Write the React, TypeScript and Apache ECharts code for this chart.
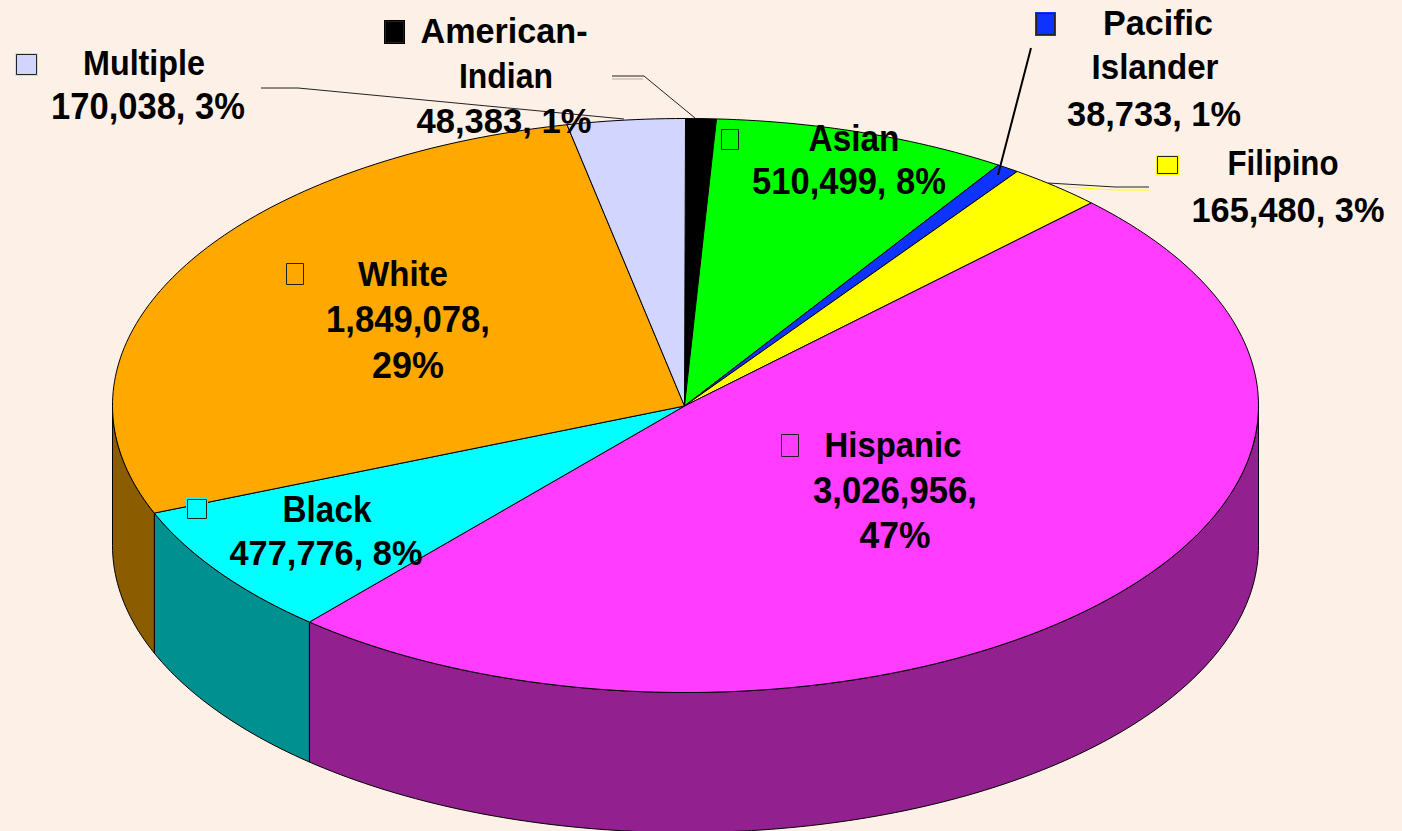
import React, { useEffect, useRef } from "react";
import * as echarts from "echarts";

// ---- data ----
const categories = ["American-Indian", "Asian", "Pacific Islander", "Filipino", "Hispanic", "Black", "White", "Multiple"];
const values = [48383, 510499, 38733, 165480, 3026956, 477776, 1849078, 170038];
const percents = [1, 8, 1, 3, 47, 8, 29, 3];

// ---- styles ----
const BG = "#FDF0E7";
const topColors = ["#000000", "#00FF00", "#0F33FF", "#FFFF00", "#FF3CFF", "#00FFFF", "#FFA800", "#D2D6FF"];
const wallColors = ["#000000", "#008000", "#081A80", "#808000", "#93208F", "#009090", "#8C5C00", "#696B80"];
const FONT_SPEC = 'bold 36px "Liberation Sans", Arial, sans-serif';
const TEXT_DY = -1.5;

// ---- projection of the tilted pie ----
const CX = 685.5, CY = 405.5, RX = 573, RY = 287, DEPTH = 140;
const HUB_X = 684.5, HUB_Y = 406;
// Pie angle -> drawn angle: the 3D projection of the original foreshortens the sweep a little.
const projectionStops: [number, number][] = [[0, 0], [2.77, 3.1], [43.7, 45.1], [217, 221], [244.4, 248], [350.3, 348.1], [360, 360]];

function project(a: number): number {
  for (let i = 1; i < projectionStops.length; i++) {
    const [a0, b0] = projectionStops[i - 1];
    const [a1, b1] = projectionStops[i];
    if (a <= a1) return b0 + ((a - a0) / (a1 - a0)) * (b1 - b0);
  }
  return a;
}
const rimPoint = (deg: number, dy = 0): [number, number] => {
  const r = (deg * Math.PI) / 180;
  return [CX + RX * Math.sin(r), CY - RY * Math.cos(r) + dy];
};
function arc(from: number, to: number, dy = 0): [number, number][] {
  const pts: [number, number][] = [];
  const n = Math.max(1, Math.ceil(Math.abs(to - from)));
  for (let i = 0; i <= n; i++) pts.push(rimPoint(from + ((to - from) * i) / n, dy));
  return pts;
}

const total = values.reduce((s, v) => s + v, 0);
const cumulative: number[] = [0];
values.forEach((v) => cumulative.push(cumulative[cumulative.length - 1] + v));

function renderSlice(params: any) {
  const i = params.dataIndex;
  const a0 = project((cumulative[i] / total) * 360);
  const a1 = project((cumulative[i + 1] / total) * 360);
  const children: any[] = [];
  const w0 = Math.max(a0, 90), w1 = Math.min(a1, 270);
  if (w1 > w0) {
    children.push({
      type: "polygon",
      shape: { points: [...arc(w0, w1), ...arc(w1, w0, DEPTH)] },
      style: { fill: wallColors[i], stroke: "#000", lineWidth: 1, lineJoin: "round" },
    });
  }
  children.push({
    type: "polygon",
    shape: { points: [[HUB_X, HUB_Y], ...arc(a0, a1)] },
    style: { fill: topColors[i], stroke: "#000", lineWidth: 1, lineJoin: "round" },
  });
  return { type: "group", children };
}

// ---- label layout (category index -> text lines, key, leader) ----
const fmt = (n: number) => n.toLocaleString("en-US");
const labelText: string[][] = [
  ["American-", "Indian", `${fmt(values[0])}, ${percents[0]}%`],
  [categories[1], `${fmt(values[1])}, ${percents[1]}%`],
  ["Pacific", "Islander", `${fmt(values[2])}, ${percents[2]}%`],
  [categories[3], `${fmt(values[3])}, ${percents[3]}%`],
  [categories[4], `${fmt(values[4])},`, `${percents[4]}%`],
  [categories[5], `${fmt(values[5])}, ${percents[5]}%`],
  [categories[6], `${fmt(values[6])},`, `${percents[6]}%`],
  [categories[7], `${fmt(values[7])}, ${percents[7]}%`],
];
const labelPos: [number, number][][] = [
  [[504, 32], [506, 77], [504, 122]],
  [[854, 140], [849, 183]],
  [[1158, 24], [1155, 68], [1154, 115]],
  [[1283, 164], [1288, 211]],
  [[893, 446], [895, 492], [895, 537]],
  [[327, 511], [326, 554]],
  [[403, 275], [408, 321], [408, 367]],
  [[144, 64], [148, 108]],
];
// Width each text line occupies in the picture; the original's face is slightly condensed.
const labelWidth: number[][] = [
  [167, 94, 175],
  [91, 194],
  [110, 127, 174],
  [111, 193],
  [137, 164, 71],
  [89, 193],
  [90, 164, 72],
  [122, 194],
];
const keyBox: number[][] = [
  [384, 20, 21, 24, 1.5],
  [721, 129, 18, 21, 0.5],
  [1035, 12, 21, 24, 1.5],
  [1156, 155, 23, 20, 1.5],
  [781, 434, 18, 23, 0.5],
  [186, 498, 22, 22, 1.5],
  [286, 263, 18, 22, 0.5],
  [15, 53, 23, 23, 1.5],
];

const measureCtx = document.createElement("canvas").getContext("2d")!;
measureCtx.font = FONT_SPEC;

function buildGraphic() {
  const els: any[] = [];
  const line = (pts: number[][], stroke: string, lineWidth = 1) =>
    els.push({ type: "polyline", z: 10, shape: { points: pts }, style: { stroke, lineWidth, fill: "none" } });
  line([[612, 79], [643, 79]], "#b0aca8");
  line([[612, 76], [644, 76], [695, 118]], "#222");
  line([[261, 88], [298, 88], [624, 119]], "#222");
  line([[1149, 190], [1115, 190], [1066, 187]], "#FFFF00");
  line([[1149, 187], [1115, 187], [1048, 183]], "#222");
  line([[1031, 48], [998, 175]], "#000", 2);
  keyBox.forEach(([x, y, w, h, inset], i) => {
    els.push({ type: "rect", z: 11, shape: { x, y, width: w, height: h }, style: { fill: topColors[i] } });
    els.push({
      type: "rect", z: 12,
      shape: { x: x + inset, y: y + inset, width: w - 2 * inset, height: h - 2 * inset },
      style: { fill: topColors[i], stroke: "#222", lineWidth: 1 },
    });
  });
  labelText.forEach((lines, i) =>
    lines.forEach((text, j) =>
      els.push({
        type: "text", z: 20,
        x: labelPos[i][j][0], y: labelPos[i][j][1] + TEXT_DY,
        scaleX: labelWidth[i][j] / measureCtx.measureText(text).width,
        style: { text, fill: "#000", font: FONT_SPEC, textAlign: "center", textVerticalAlign: "middle" },
      })
    )
  );
  return els;
}

export default function App() {
  const ref = useRef<HTMLDivElement>(null);
  useEffect(() => {
    document.body.style.margin = "0";
    document.body.style.overflow = "hidden";
    document.body.style.background = BG;
    const chart = echarts.init(ref.current!, undefined, { renderer: "svg" });
    chart.setOption({
      animation: false,
      backgroundColor: BG,
      series: [
        {
          type: "custom",
          coordinateSystem: "none",
          silent: true,
          clip: false,
          data: values.map((value, i) => ({ name: categories[i], value })),
          renderItem: renderSlice,
        },
      ],
      graphic: { elements: buildGraphic() },
    });
    return () => chart.dispose();
  }, []);
  return <div ref={ref} style={{ position: "absolute", left: 0, top: 0, width: 1402, height: 831 }} />;
}
